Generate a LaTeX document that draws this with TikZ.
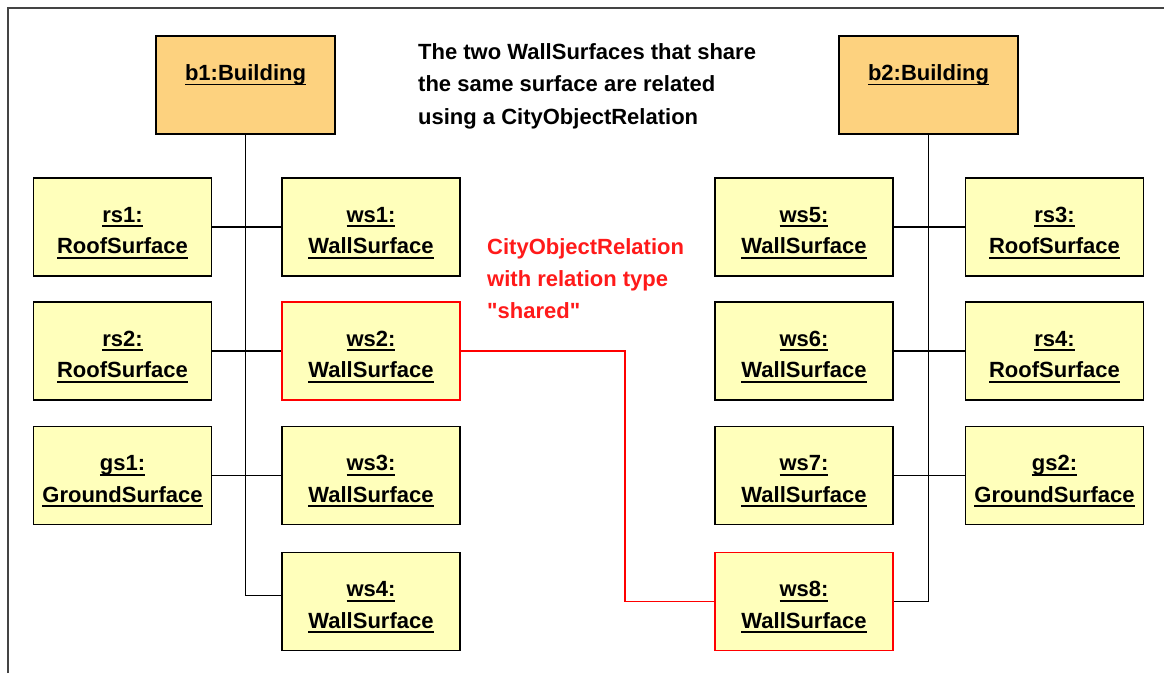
\documentclass[tikz,border=0pt]{standalone}
\usepackage{fontspec}
\setmainfont{Liberation Sans}
\definecolor{ybox}{HTML}{FFFFBB}
\definecolor{obox}{HTML}{FDD27F}
\definecolor{relred}{HTML}{FF1A1A}
\definecolor{frame}{HTML}{444444}
\newsavebox\ulbox
\newcommand\ulx[1]{\sbox\ulbox{#1}\rlap{\rule[-5pt]{\wd\ulbox}{1.8pt}}\usebox\ulbox}
\newcommand\twol[2]{\rule{0pt}{27pt}\ulx{#1}\\\ulx{#2}}
\tikzset{
  txt/.style={font=\fontsize{22}{31.5}\selectfont\bfseries, inner sep=0pt},
  obj/.style={txt, draw=black, fill=ybox, line width=1.8pt, minimum width=178pt, minimum height=98pt, align=center},
  sharedobj/.style={obj, draw=red},
  bld/.style={draw=black, fill=obox, line width=1.8pt, minimum width=179pt, minimum height=98pt, inner sep=0pt},
  link/.style={line width=1.8pt, draw=black},
  rlink/.style={line width=1.8pt, draw=red},
}
\begin{document}
\begin{tikzpicture}[x=1pt,y=-1pt]
\useasboundingbox (0,0) rectangle (1164,673);
\draw[frame, line width=2pt] (8,673) -- (8,8) -- (1164,8);

% buildings
\node[bld] (b1) at (245.5,85) {};
\node[txt] (b1t) at (245.5,75) {\ulx{b1:Building}};
\node[bld] (b2) at (928.5,85) {};
\node[txt] (b2t) at (928.5,75) {\ulx{b2:Building}};

% left side
\node[obj] (rs1) at (122.5,227) {\twol{rs1:}{RoofSurface}};
\node[obj] (ws1) at (371,227) {\twol{ws1:}{WallSurface}};
\node[obj] (rs2) at (122.5,351) {\twol{rs2:}{RoofSurface}};
\node[sharedobj] (ws2) at (371,351) {\twol{ws2:}{WallSurface}};
\node[obj] (gs1) at (122.5,475.5) {\twol{gs1:}{GroundSurface}};
\node[obj] (ws3) at (371,475.5) {\twol{ws3:}{WallSurface}};
\node[obj] (ws4) at (371,601.5) {\twol{ws4:}{WallSurface}};

% right side
\node[obj] (ws5) at (804,227) {\twol{ws5:}{WallSurface}};
\node[obj] (rs3) at (1054.5,227) {\twol{rs3:}{RoofSurface}};
\node[obj] (ws6) at (804,351) {\twol{ws6:}{WallSurface}};
\node[obj] (rs4) at (1054.5,351) {\twol{rs4:}{RoofSurface}};
\node[obj] (ws7) at (804,475.5) {\twol{ws7:}{WallSurface}};
\node[obj] (gs2) at (1054.5,475.5) {\twol{gs2:}{GroundSurface}};
\node[sharedobj] (ws8) at (804,601.5) {\twol{ws8:}{WallSurface}};

% texts
\node[txt, font=\fontsize{22}{32.5}\selectfont\bfseries, anchor=north west, align=left] (note) at (418,43)
  {The two WallSurfaces that share\\the same surface are related\\using a CityObjectRelation};
\node[txt, font=\fontsize{22}{32}\selectfont\bfseries, anchor=north west, align=left, text=relred] (rellbl) at (487,238)
  {CityObjectRelation\\with relation type\\\textquotedbl shared\textquotedbl};

% connectors left
\draw[link] (b1.south) |- ([yshift=6pt]ws4.west);
\draw[link] (rs1.east) -- (ws1.west);
\draw[link] (rs2.east) -- (ws2.west);
\draw[link] (gs1.east) -- (ws3.west);

% connectors right
\draw[link] (b2.south) |- (ws8.east);
\draw[link] (ws5.east) -- (rs3.west);
\draw[link] (ws6.east) -- (rs4.west);
\draw[link] (ws7.east) -- (gs2.west);

% relation
\coordinate (bend) at (625,351);
\draw[rlink] (ws2.east) -- (bend) |- (ws8.west);
\end{tikzpicture}
\end{document}
